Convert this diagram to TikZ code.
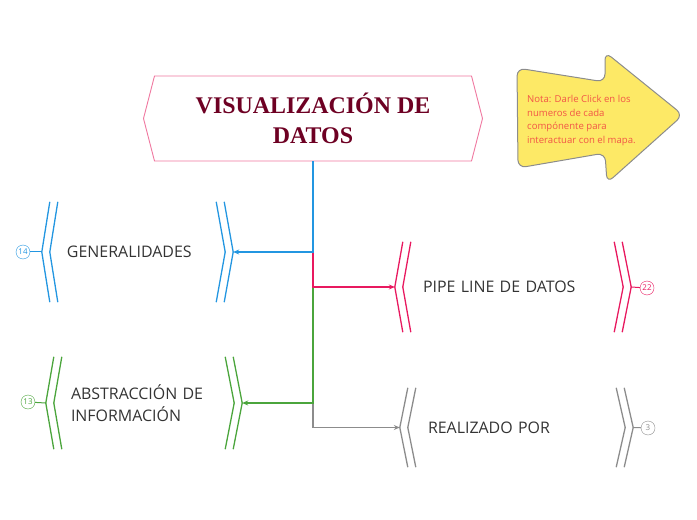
\documentclass[tikz,border=0pt]{standalone}
\usepackage{fontspec}
\setmainfont{Open Sans}
\newfontfamily\titlefont{Liberation Serif}
\usetikzlibrary{shapes.symbols, arrows.meta, positioning, calc}
\definecolor{titlered}{RGB}{110,0,35}
\definecolor{titleedge}{RGB}{240,120,160}
\definecolor{genblue}{RGB}{35,150,225}
\definecolor{pipepink}{RGB}{232,25,95}
\definecolor{absgreen}{RGB}{75,165,60}
\definecolor{realgray}{RGB}{140,140,140}
\definecolor{noteyellow}{RGB}{253,233,102}
\definecolor{notetext}{RGB}{242,85,70}
\definecolor{topictext}{RGB}{51,51,51}
\tikzset{
  topic/.style={rectangle, inner xsep=25bp, inner ysep=0pt, align=left,
                text=topictext, font=\fontsize{16}{22}\selectfont},
  badge/.style={circle, draw=#1, text=#1, thin, inner sep=0pt,
                minimum size=14bp, font=\fontsize{8}{8}\selectfont},
  link/.style={-{Stealth[length=6bp, width=5bp]}, line width=1.2bp, color=#1},
  bracket/.style={line width=1.3bp, color=#1},
}
\begin{document}
\begin{tikzpicture}[x=1bp, y=-1bp]
  \useasboundingbox (0,0) rectangle (697,520);
  % central title
  \node[signal, signal to=east and west, signal pointer angle=151,
        draw=titleedge, line width=0.9bp, fill=white, minimum width=339bp,
        minimum height=85bp, font=\titlefont\bfseries\fontsize{24}{30}\selectfont,
        text=titlered, align=center] (title) at (313,118.5) {VISUALIZACIÓN DE\\DATOS};
  % note arrow
  \draw[fill=noteyellow, draw=gray!90, line width=1bp, rounded corners=8bp]
    (517,68) -- (605,82) -- (605,52) -- (683,115) -- (607,183)
    -- (605,153) -- (518,168) -- cycle;
  \node[anchor=north west, align=left, text=notetext, inner sep=0pt,
        font=\fontsize{9.6}{13.6}\selectfont] (note) at (527,95)
    {Nota: Darle Click en los\\numeros de cada\\compónente para\\interactuar con el mapa.};
  % topics
  \node[topic, text width=141bp, minimum height=100bp] (gen) at (137.5,252) {GENERALIDADES};
  \node[topic, inner xsep=28bp, text width=180bp, minimum height=90bp] (pipe) at (513,287) {PIPE LINE DE DATOS};
  \node[topic, text width=146bp, minimum height=92bp] (abs) at (144,403) {ABSTRACCIÓN DE\\INFORMACIÓN};
  \node[topic, inner xsep=28bp, text width=177bp, minimum height=79bp] (real) at (516.5,427.5) {REALIZADO POR};
  \foreach \n/\c in {gen/genblue, pipe/pipepink, abs/absgreen, real/realgray}{
    \draw[bracket=\c]
      ([xshift=8bp]\n.north west) -- (\n.west) -- ([xshift=8bp]\n.south west)
      ([xshift=16bp]\n.north west) -- ([xshift=8bp]\n.west) -- ([xshift=16bp]\n.south west)
      ([xshift=-9bp]\n.north east) -- (\n.east) -- ([xshift=-9bp]\n.south east)
      ([xshift=-17bp]\n.north east) -- ([xshift=-8bp]\n.east) -- ([xshift=-17bp]\n.south east);
  }
  % badges
  \node[badge=genblue] (b14) at (23,252) {14};
  \node[badge=pipepink] (b22) at (647,288) {22};
  \node[badge=absgreen] (b13) at (28,402) {13};
  \node[badge=realgray] (b3) at (648,428) {3};
  \draw[genblue, line width=1bp] (b14) -- (gen.west);
  \draw[pipepink, line width=1bp] (b22) -- (pipe.east);
  \draw[absgreen, line width=1bp] (b13) -- (abs.west);
  \draw[realgray, line width=1bp] (b3) -- (real.east);
  % connectors
  \draw[link=realgray] (title.south) |- (real.west);
  \draw[link=absgreen] (title.south) |- (abs.east);
  \draw[link=pipepink] (title.south) |- (pipe.west);
  \draw[link=genblue] (title.south) |- (gen.east);
\end{tikzpicture}
\end{document}
